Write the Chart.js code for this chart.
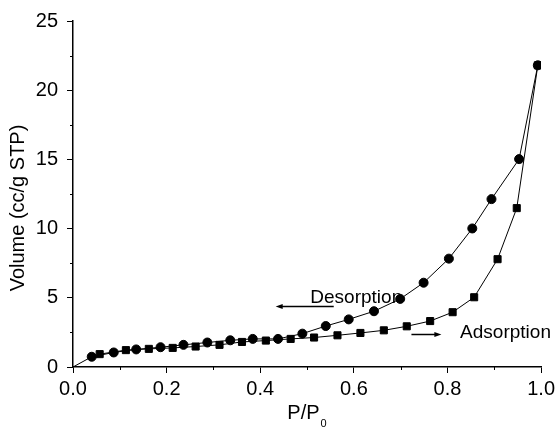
<!DOCTYPE html>
<html>
<head>
<meta charset="utf-8">
<script src="https://cdn.jsdelivr.net/npm/chart.js@4/dist/chart.umd.min.js"></script>
<style>
  html, body { margin: 0; padding: 0; background: #fff; }
  #wrap { width: 559px; height: 430px; }
</style>
</head>
<body>
<div id="wrap"><canvas id="iso"></canvas></div>
<script>
// relative pressure / volume
var adsP = [0.057, 0.113, 0.162, 0.213, 0.262, 0.313, 0.361, 0.412, 0.465, 0.515,
            0.565, 0.614, 0.664, 0.713, 0.763, 0.811, 0.857, 0.907, 0.948, 0.993];
var adsV = [0.93, 1.22, 1.31, 1.38, 1.48, 1.60, 1.81, 1.91, 2.03, 2.13,
            2.29, 2.46, 2.65, 2.94, 3.32, 3.96, 5.04, 7.79, 11.48, 21.8];

var desP = [0.0, 0.040, 0.087, 0.135, 0.187, 0.236, 0.287, 0.336, 0.384, 0.438, 0.490,
            0.540, 0.589, 0.643, 0.699, 0.749, 0.803, 0.853, 0.894, 0.953, 0.993];
var desV = [0.0, 0.74, 1.05, 1.27, 1.43, 1.60, 1.77, 1.93, 2.03, 2.03, 2.41,
            2.96, 3.44, 4.03, 4.92, 6.09, 7.83, 10.01, 12.13, 15.02, 21.8];

var xTicks = [0.0, 0.2, 0.4, 0.6, 0.8, 1.0];
var yTicks = [0, 5, 10, 15, 20, 25];
var xMinor = [0.1, 0.3, 0.5, 0.7, 0.9];
var yMinor = [2.5, 7.5, 12.5, 17.5, 22.5];

var FONT = '"Liberation Sans", Arial, sans-serif';

function pts(xs, ys) {
    return xs.map(function (x, i) { return {x: x, y: ys[i]}; });
}

// minor ticks, axis titles and the two arrow labels
var extras = {
    id: 'extras',
    afterDraw: function (c) {
        var ctx = c.ctx, xs = c.scales.x, ys = c.scales.y, a = c.chartArea;
        ctx.save();
        ctx.strokeStyle = '#000';
        ctx.lineWidth = 1;
        ctx.beginPath();
        xMinor.forEach(function (v) {
            var px = Math.round(xs.getPixelForValue(v)) + 0.5;
            ctx.moveTo(px, a.bottom); ctx.lineTo(px, a.bottom + 3);
        });
        yMinor.forEach(function (v) {
            var py = Math.round(ys.getPixelForValue(v)) + 0.5;
            ctx.moveTo(a.left, py); ctx.lineTo(a.left - 3, py);
        });
        ctx.stroke();

        ctx.fillStyle = '#000';
        // y title
        ctx.save();
        ctx.translate(18, (a.top + a.bottom) / 2 + 14);
        ctx.rotate(-Math.PI / 2);
        ctx.font = '20px ' + FONT;
        ctx.textAlign = 'center';
        ctx.textBaseline = 'middle';
        ctx.fillText('Volume (cc/g STP)', 0, 0);
        ctx.restore();

        // x title P/P0
        ctx.font = '20px ' + FONT;
        ctx.textBaseline = 'alphabetic';
        ctx.textAlign = 'left';
        var w1 = ctx.measureText('P/P').width;
        ctx.font = '11px ' + FONT;
        var w2 = ctx.measureText('0').width;
        var sx = (a.left + a.right) / 2 - (w1 + w2 + 1) / 2;
        ctx.font = '20px ' + FONT;
        ctx.fillText('P/P', sx, 419);
        ctx.font = '11px ' + FONT;
        ctx.fillText('0', sx + w1 + 1, 427);

        // labels with arrows
        ctx.font = '19px ' + FONT;
        ctx.textBaseline = 'middle';
        ctx.fillText('Desorption', xs.getPixelForValue(0.507), ys.getPixelForValue(4.98));
        ctx.fillText('Adsorption', xs.getPixelForValue(0.827), ys.getPixelForValue(2.47));
        arrow(ctx, xs.getPixelForValue(0.557), xs.getPixelForValue(0.433), ys.getPixelForValue(4.44));
        arrow(ctx, xs.getPixelForValue(0.723), xs.getPixelForValue(0.787), ys.getPixelForValue(2.41));
        ctx.restore();
    }
};

function arrow(ctx, x0, x1, y) {
    y = Math.round(y) + 0.5;
    var d = x1 > x0 ? 1 : -1;
    ctx.beginPath();
    ctx.moveTo(x0, y); ctx.lineTo(x1 - d * 5, y);
    ctx.lineWidth = 1.5;
    ctx.stroke();
    ctx.beginPath();
    ctx.moveTo(x1, y);
    ctx.lineTo(x1 - d * 7, y - 2.5);
    ctx.lineTo(x1 - d * 7, y + 2.5);
    ctx.closePath();
    ctx.fill();
}

var desRadius = desP.map(function (p, i) { return i === 0 ? 0 : 4.5; });

new Chart(document.getElementById('iso'), {
    type: 'scatter',
    data: {
        datasets: [{
            label: 'Adsorption',
            data: pts(adsP, adsV),
            showLine: true,
            borderColor: '#000',
            backgroundColor: '#000',
            borderWidth: 1,
            pointStyle: 'rect',
            pointRadius: 5,
            pointHoverRadius: 5
        }, {
            label: 'Desorption',
            data: pts(desP, desV),
            showLine: true,
            borderColor: '#000',
            backgroundColor: '#000',
            borderWidth: 1,
            pointStyle: 'circle',
            pointRadius: desRadius,
            pointHoverRadius: desRadius
        }]
    },
    options: {
        responsive: true,
        maintainAspectRatio: false,
        animation: false,
        layout: { padding: { top: 18, right: 16, left: 0, bottom: 0 } },
        plugins: { legend: { display: false }, tooltip: { enabled: false } },
        scales: {
            x: {
                type: 'linear',
                min: 0, max: 1,
                afterBuildTicks: function (s) { s.ticks = xTicks.map(function (v) { return {value: v}; }); },
                afterFit: function (s) { s.height = 63; },
                border: { color: '#000', width: 1.5 },
                grid: { drawOnChartArea: false, color: '#000', tickLength: 6, tickWidth: 1 },
                ticks: {
                    color: '#000',
                    font: { size: 20, family: FONT },
                    padding: 4,
                    maxRotation: 0,
                    callback: function (v) { return v.toFixed(1); }
                }
            },
            y: {
                type: 'linear',
                min: 0, max: 25,
                afterBuildTicks: function (s) { s.ticks = yTicks.map(function (v) { return {value: v}; }); },
                afterFit: function (s) { s.width = 73; },
                border: { color: '#000', width: 1.5 },
                grid: { drawOnChartArea: false, color: '#000', tickLength: 6, tickWidth: 1 },
                ticks: {
                    color: '#000',
                    font: { size: 20, family: FONT },
                    padding: 9
                }
            }
        }
    },
    plugins: [extras]
});
</script>
</body>
</html>
